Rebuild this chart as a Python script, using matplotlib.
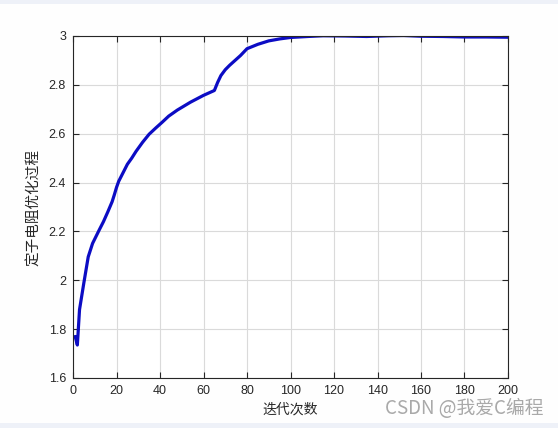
import matplotlib
matplotlib.use("Agg")
import matplotlib.pyplot as plt
from matplotlib.patches import Rectangle

iterations = [1, 2, 3, 5, 7, 9, 12, 14, 16, 18, 19, 20, 21, 23, 25, 27, 29, 32, 35,
              38, 41, 44, 48, 54, 60, 65, 66.5, 68, 70, 72, 77, 80, 85, 90, 95, 100,
              108, 115, 125, 135, 145, 152, 160, 170, 180, 190, 200]
resistance = [1.77, 1.735, 1.88, 1.99, 2.096, 2.151, 2.205, 2.24, 2.28, 2.322, 2.35,
              2.38, 2.405, 2.44, 2.475, 2.50, 2.528, 2.565, 2.598,
              2.623, 2.647, 2.672, 2.697, 2.729, 2.757, 2.777, 2.81, 2.838, 2.862,
              2.88, 2.92, 2.948, 2.966, 2.98, 2.988, 2.994, 2.998, 3.001, 3.0,
              2.998, 3.001, 3.002, 2.999, 2.998, 2.996, 2.996, 2.995]

xticks = [0, 20, 40, 60, 80, 100, 120, 140, 160, 180, 200]
yticks = [1.6, 1.8, 2.0, 2.2, 2.4, 2.6, 2.8, 3.0]
ytick_labels = ["1.6", "1.8", "2", "2.2", "2.4", "2.6", "2.8", "3"]
xlabel = "迭代次数"
ylabel = "定子电阻优化过程"
watermark = "CSDN @我爱C编程"

plt.rcParams['font.family'] = ['Liberation Sans', 'DejaVu Sans']
cjk = ['Noto Sans CJK SC', 'DejaVu Sans']

fig = plt.figure(figsize=(5.58, 4.28), dpi=100, facecolor='#fefefe')
band = '#eef1f8'
fig.patches.append(Rectangle((0, 1 - 4/428), 1, 4/428, transform=fig.transFigure,
                             facecolor=band, edgecolor='none', zorder=0))
fig.patches.append(Rectangle((0, 0), 1, 5/428, transform=fig.transFigure,
                             facecolor=band, edgecolor='none', zorder=0))

ax = fig.add_axes([73/558, 1 - 378/428, 435/558, 342/428])
ax.plot(iterations, resistance, color='#0c0cc4', linewidth=2.3,
        solid_capstyle='round', solid_joinstyle='round')
ax.set_xlim(0, 200)
ax.set_ylim(1.6, 3.0)
ax.set_xticks(xticks)
ax.set_xticklabels([str(t) for t in xticks])
ax.set_yticks(yticks)
ax.set_yticklabels(ytick_labels)
ax.grid(True, color='#dadada', linewidth=0.8)
ax.set_axisbelow(True)
ax.tick_params(direction='in', top=True, right=True, length=4, width=0.8,
               labelsize=9, labelcolor='#262626', color='#262626', pad=5)
for s in ax.spines.values():
    s.set_color('#262626')
    s.set_linewidth(0.8)

fig.text(290/558, 1 - 410/428, xlabel, family=cjk, fontsize=10, color='#262626',
         ha='center', va='center')
fig.text(34/558, 1 - 207/428, ylabel, family=cjk, fontsize=10.5, color='#262626',
         ha='center', va='center', rotation=90)
fig.text(464/558, 1 - 409/428, watermark, family=cjk, fontsize=13.5, color='#9a9a9a',
         ha='center', va='center', alpha=0.85)

fig.savefig('out.png', dpi=100, facecolor=fig.get_facecolor())
